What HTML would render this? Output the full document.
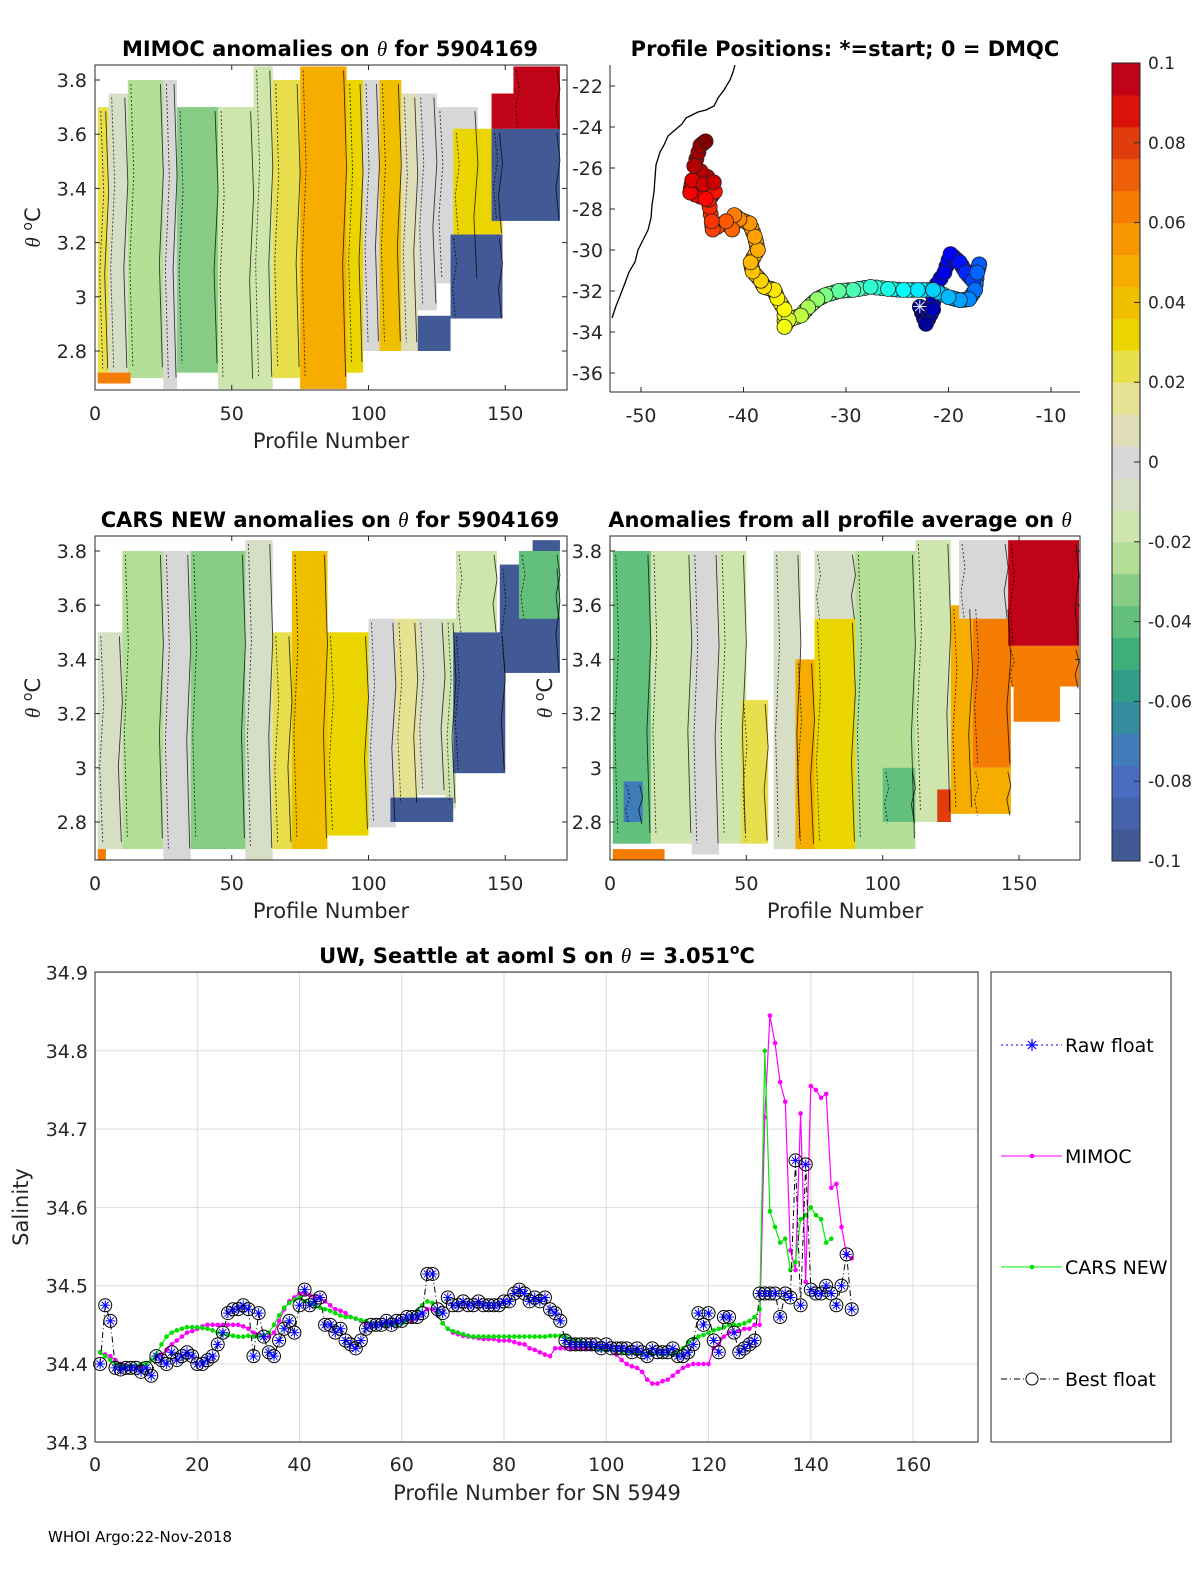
<!DOCTYPE html>
<html><head><meta charset="utf-8"><style>
html,body{margin:0;padding:0;background:#fff;}
svg{display:block;font-family:"DejaVu Sans","Liberation Sans",sans-serif;}
</style></head><body>
<svg id="fig" width="1200" height="1575" viewBox="0 0 1200 1575" xmlns="http://www.w3.org/2000/svg">
<rect x="0" y="0" width="1200" height="1575" fill="#fff"/>
<g id="layer-heat"></g><g id="layer-map"></g><g id="layer-cbar"></g><g id="layer-line"></g><g id="layer-text"></g>
</svg>
<script>
// ===== Bottom chart data =====
const floatSal = [34.40,34.475,34.455,34.395,34.393,34.395,34.395,34.395,34.39,34.395,
34.385,34.41,34.405,34.40,34.415,34.405,34.41,34.415,34.41,34.40,
34.40,34.405,34.41,34.425,34.44,34.465,34.47,34.47,34.475,34.47,
34.41,34.465,34.435,34.415,34.41,34.43,34.445,34.455,34.44,34.475,
34.495,34.475,34.48,34.485,34.45,34.45,34.44,34.445,34.43,34.425,
34.42,34.43,34.445,34.45,34.45,34.45,34.455,34.45,34.455,34.455,
34.46,34.46,34.46,34.465,34.515,34.515,34.47,34.465,34.485,34.475,
34.475,34.48,34.475,34.475,34.48,34.475,34.475,34.475,34.475,34.48,
34.48,34.49,34.495,34.49,34.48,34.485,34.48,34.485,34.47,34.465,
34.455,34.43,34.425,34.425,34.425,34.425,34.425,34.425,34.42,34.425,
34.42,34.42,34.42,34.42,34.415,34.42,34.415,34.41,34.42,34.415,
34.415,34.415,34.42,34.41,34.41,34.415,34.425,34.465,34.45,34.465,
34.43,34.415,34.46,34.46,34.44,34.415,34.42,34.425,34.43,34.49,
34.49,34.49,34.49,34.46,34.49,34.485,34.66,34.475,34.655,34.495,
34.49,34.49,34.5,34.49,34.475,34.5,34.54,34.47];
const mimocSal = [34.415,34.412,34.41,34.405,34.40,34.398,34.397,34.396,34.397,34.40,
34.405,34.41,34.412,34.418,34.425,34.43,34.435,34.44,34.442,34.445,
34.448,34.45,34.45,34.45,34.45,34.45,34.45,34.45,34.448,34.445,
34.44,34.438,34.435,34.435,34.44,34.455,34.47,34.48,34.485,34.49,
34.49,34.488,34.485,34.485,34.48,34.475,34.47,34.468,34.465,34.46,
34.458,34.455,34.452,34.45,34.45,34.45,34.452,34.452,34.455,34.455,
34.455,34.455,34.458,34.465,34.47,34.47,34.462,34.452,34.445,34.44,
34.438,34.436,34.435,34.434,34.433,34.432,34.432,34.432,34.43,34.43,
34.43,34.428,34.426,34.425,34.42,34.418,34.415,34.412,34.41,34.42,
34.42,34.42,34.42,34.42,34.42,34.42,34.42,34.42,34.42,34.42,
34.418,34.412,34.405,34.40,34.397,34.395,34.39,34.38,34.375,34.375,
34.378,34.38,34.385,34.39,34.395,34.398,34.40,34.40,34.40,34.40,
34.42,34.425,34.435,34.44,34.44,34.442,34.445,34.445,34.45,34.45,
34.715,34.845,34.81,34.76,34.735,34.545,34.52,34.72,34.505,34.755,
34.75,34.74,34.745,34.625,34.63,34.575,34.54,34.535];
const carsSal = [34.415,34.41,34.405,34.40,34.398,34.397,34.397,34.398,34.40,34.40,
34.405,34.412,34.425,34.435,34.44,34.443,34.445,34.447,34.447,34.447,
34.446,34.445,34.443,34.44,34.438,34.437,34.436,34.435,34.435,34.436,
34.435,34.435,34.437,34.44,34.45,34.462,34.472,34.478,34.482,34.485,
34.48,34.478,34.475,34.472,34.47,34.468,34.465,34.462,34.46,34.46,
34.458,34.456,34.455,34.452,34.45,34.45,34.45,34.45,34.45,34.452,
34.455,34.46,34.468,34.475,34.48,34.478,34.465,34.452,34.445,34.442,
34.44,34.438,34.436,34.435,34.435,34.435,34.435,34.435,34.435,34.435,
34.435,34.435,34.435,34.435,34.435,34.435,34.435,34.435,34.436,34.436,
34.436,34.435,34.432,34.43,34.428,34.425,34.422,34.42,34.418,34.418,
34.418,34.417,34.416,34.415,34.414,34.414,34.413,34.413,34.413,34.413,
34.412,34.412,34.412,34.415,34.42,34.428,34.432,34.435,34.437,34.44,
34.443,34.445,34.447,34.45,34.45,34.45,34.452,34.455,34.46,34.47,
34.80,34.595,34.575,34.555,34.56,34.52,34.53,34.585,34.59,34.60,
34.59,34.585,34.555,34.56];
const xTicks = [0,20,40,60,80,100,120,140,160];
const yTicks = [34.3,34.4,34.5,34.6,34.7,34.8,34.9];

// ===== Heatmap segment data: [startProfile, endProfile, topTheta, bottomTheta, anomaly] =====
const mimocStart = [1,5,12,25,30,45,58,65,75,92,98,104,112,118,125,1,118,130,131,145,153,145];
const mimocEnd   = [5,12,25,30,45,58,65,75,92,98,104,112,118,125,140,13,130,149,149,170,170,153];
const mimocTop   = [3.70,3.75,3.80,3.80,3.70,3.70,3.85,3.80,3.85,3.80,3.80,3.80,3.75,3.75,3.70,2.72,2.93,3.23,3.62,3.62,3.85,3.75];
const mimocBot   = [2.70,2.70,2.70,2.66,2.72,2.66,2.66,2.70,2.66,2.72,2.80,2.80,2.80,2.95,3.05,2.68,2.80,2.92,3.23,3.28,3.62,3.62];
const mimocVal   = [0.025,-0.012,-0.022,0.0,-0.036,-0.016,-0.015,0.022,0.045,0.03,0.0,0.04,0.01,0.0,0.0,0.06,-0.1,-0.1,0.035,-0.1,0.1,0.1];

const carsStart = [1,10,25,35,55,65,72,85,100,110,118,128,108,131,132,148,155,160,1];
const carsEnd   = [10,25,35,55,65,72,85,100,110,118,128,132,131,150,147,170,170,170,4];
const carsTop   = [3.50,3.80,3.80,3.80,3.84,3.50,3.80,3.50,3.55,3.55,3.55,3.55,2.89,3.50,3.80,3.75,3.80,3.84,2.70];
const carsBot   = [2.70,2.70,2.66,2.70,2.66,2.70,2.70,2.75,2.78,2.85,2.90,2.85,2.80,2.98,3.50,3.35,3.55,3.80,2.66];
const carsVal   = [-0.005,-0.022,0.0,-0.032,-0.012,0.02,0.04,0.035,0.0,0.018,-0.01,-0.02,-0.1,-0.1,-0.02,-0.1,-0.04,-0.1,0.06];

const avgStart = [1,5,15,30,40,48,60,68,75,75,90,100,112,120,125,133,128,146,146,148,133,1];
const avgEnd   = [15,12,30,40,50,58,70,75,90,90,112,112,125,125,133,147,146,172,172,165,147,20];
const avgTop   = [3.80,2.95,3.80,3.80,3.80,3.25,3.80,3.40,3.55,3.80,3.80,3.00,3.84,2.92,3.60,3.60,3.84,3.84,3.45,3.30,3.00,2.70];
const avgBot   = [2.72,2.80,2.72,2.68,2.72,2.72,2.70,2.70,2.70,3.55,2.70,2.80,2.80,2.80,2.83,3.00,3.55,3.45,3.30,3.17,2.83,2.66];
const avgVal   = [-0.038,-0.07,-0.02,0.0,-0.018,0.022,-0.005,0.045,0.028,-0.01,-0.022,-0.04,-0.02,0.08,0.045,0.065,0.0,0.1,0.065,0.065,0.05,0.06];

// ===== Float track positions and their profile numbers =====
const trackLon = [-22.8,-22.2,-21.5,-21.5,-20.4,-19.8,-18.9,-18.3,-17.6,-17.0,-17.2,-17.4,-18.0,-18.9,-20.0,-21.5,-23.0,-24.4,-25.9,-27.6,-29.3,-30.7,-32.0,-32.8,-33.7,-34.4,-35.6,-36.0,-36.0,-36.7,-37.0,-38.0,-38.3,-39.1,-39.3,-38.6,-38.9,-39.4,-40.4,-40.9,-41.1,-41.7,-43.0,-43.1,-43.4,-42.8,-43.7,-45.2,-45.0,-43.9,-42.9,-44.8,-44.2,-43.7];
const trackLat = [-32.77,-33.6,-32.9,-31.95,-31.1,-30.2,-30.6,-31.1,-31.5,-30.7,-31.1,-31.95,-32.4,-32.45,-32.3,-31.95,-31.95,-31.95,-31.9,-31.8,-31.95,-32.0,-32.2,-32.4,-32.8,-33.2,-33.4,-33.75,-32.9,-32.35,-31.95,-31.8,-31.5,-31.05,-30.6,-30.0,-29.35,-28.7,-28.5,-28.3,-29.0,-28.6,-29.0,-28.6,-27.55,-27.15,-27.5,-27.2,-26.6,-26.8,-26.7,-25.9,-24.9,-24.7];
const trackProf = [1,4,8,12,16,20,24,28,32,36,38,40,44,48,52,56,60,64,68,72,76,80,84,88,92,96,100,104,106,108,110,112,114,116,118,120,122,124,126,128,132,134,138,140,144,146,148,150,154,156,158,162,166,170];
const mapXTicks = [-50,-40,-30,-20,-10];
const mapYTicks = [-22,-24,-26,-28,-30,-32,-34,-36];
const thetaTicks = [3.8,3.6,3.4,3.2,3,2.8];
const profTicks = [0,50,100,150];
const cbarTicks = [0.1,0.08,0.06,0.04,0.02,0,-0.02,-0.04,-0.06,-0.08,-0.1];

const NS='http://www.w3.org/2000/svg';
function mk(tag, attrs, parent){const e=document.createElementNS(NS,tag);for(const k in attrs)e.setAttribute(k,attrs[k]);(parent||document.getElementById('fig')).appendChild(e);return e;}
function txt(s, x, y, size, anchor, parent, extra){const t=mk('text',Object.assign({x:x,y:y,'font-size':size,'text-anchor':anchor||'middle',fill:'#262626'},extra||{}),parent);t.textContent=s;return t;}

const cmStops=[[-0.1,'#3d5488'],[-0.09,'#4660a8'],[-0.08,'#4a6cc0'],[-0.07,'#3d80b8'],[-0.06,'#30948f'],[-0.05,'#35aa7a'],[-0.04,'#62c07c'],[-0.03,'#90d088'],[-0.02,'#c8e8a0'],[-0.01,'#d6e0c0'],[0,'#d7d7d7'],[0.01,'#e2e0b0'],[0.02,'#e8e280'],[0.03,'#e8da00'],[0.04,'#f0c000'],[0.05,'#f8a800'],[0.06,'#f88a00'],[0.07,'#f06808'],[0.08,'#e03c0c'],[0.09,'#d80808'],[0.1,'#b00020']];
function hx(c){return [parseInt(c.substr(1,2),16),parseInt(c.substr(3,2),16),parseInt(c.substr(5,2),16)];}
function cmap(v){v=Math.max(-0.1,Math.min(0.1,v));const step=0.2/25;v=-0.1+(Math.min(24,Math.floor((v+0.1)/step))+0.5)*step;
 for(let i=0;i<cmStops.length-1;i++){const a=cmStops[i],b=cmStops[i+1];if(v>=a[0]&&v<=b[0]){const t=(v-a[0])/(b[0]-a[0]);const ca=hx(a[1]),cb=hx(b[1]);return 'rgb('+ca.map((c,j)=>Math.round(c+(cb[j]-c)*t)).join(',')+')';}}return cmStops[0][1];}

function heatPanel(g, S, E, T, B, V, name){
 const layer=mk('g',{},document.getElementById('layer-heat'));
 
 
 const xs=p=>g.x0+p*g.kx, ys=t=>g.y38+(3.8-t)*271;
 for(let i=0;i<S.length;i++){
  const y0=Math.max(g.top,ys(T[i])), y1=Math.min(g.bot,ys(B[i]));
  const r=mk('rect',{x:xs(S[i]),y:y0,width:xs(E[i])-xs(S[i]),height:y1-y0,fill:cmap(V[i])},layer);
  
  
 }
 // contour-like lines at segment boundaries
 for(let i=0;i<S.length;i++){
  const y0=Math.max(g.top,ys(T[i])), y1=Math.min(g.bot,ys(B[i]));
  if(y1-y0<40) continue;
  [S[i],E[i]].forEach((p,k)=>{const x=xs(p)+(k?-3:3);
   const c=mk('path',{d:'M'+x+','+(y0+4)+' l3,'+((y1-y0)*0.3)+' l-4,'+((y1-y0)*0.3)+' l3,'+((y1-y0)*0.35),fill:'none',stroke:'#000','stroke-width':0.9,'stroke-opacity':0.75,'stroke-dasharray':k?'none':'2,2'},layer);
   });
 }
 mk('rect',{x:g.x0,y:g.top,width:g.x1-g.x0,height:g.bot-g.top,fill:'none',stroke:'#262626','stroke-width':1},layer);
 thetaTicks.forEach(t=>{const y=ys(t);mk('line',{x1:g.x0,y1:y,x2:g.x0+5,y2:y,stroke:'#262626'},layer);mk('line',{x1:g.x1,y1:y,x2:g.x1-5,y2:y,stroke:'#262626'},layer);
  const l=txt(String(t),g.x0-8,y+7,19,'end',layer);});
 profTicks.forEach(p=>{const x=xs(p);mk('line',{x1:x,y1:g.bot,x2:x,y2:g.bot-5,stroke:'#262626'},layer);mk('line',{x1:x,y1:g.top,x2:x,y2:g.top+5,stroke:'#262626'},layer);
  const l=txt(String(p),x,g.bot+30,19,'middle',layer);});
 const xl=txt('Profile Number',(g.x0+g.x1)/2,g.bot+58,21,'middle',layer);
 const yl=txt('',g.ylx,(g.top+g.bot)/2,21,'middle',layer,{transform:'rotate(-90 '+g.ylx+' '+((g.top+g.bot)/2)+')'});
 yl.innerHTML='<tspan font-style="italic" font-family="Liberation Serif, serif">θ</tspan> <tspan font-size="14" dy="-8">o</tspan><tspan dy="8">C</tspan>';
 
}
heatPanel({x0:95,x1:567,kx:2.735,y38:80,top:65,bot:390,ylx:40}, mimocStart,mimocEnd,mimocTop,mimocBot,mimocVal,'mimoc-anomaly-heatmap');
heatPanel({x0:95,x1:567,kx:2.735,y38:551,top:536,bot:860,ylx:40}, carsStart,carsEnd,carsTop,carsBot,carsVal,'cars-anomaly-heatmap');
heatPanel({x0:610,x1:1080,kx:2.727,y38:551,top:536,bot:860,ylx:552}, avgStart,avgEnd,avgTop,avgBot,avgVal,'average-anomaly-heatmap');

(function(){
 const L=document.getElementById('layer-map');
 const mx=lon=>641+(lon+50)*10.25, my=lat=>86+(-22-lat)*20.5;
 mk('line',{x1:610,y1:392,x2:1080,y2:392,stroke:'#262626'},L);
 mk('line',{x1:610,y1:65,x2:610,y2:392,stroke:'#262626'},L);
 mapXTicks.forEach(v=>{const x=mx(v);mk('line',{x1:x,y1:392,x2:x,y2:387,stroke:'#262626'},L);const t=txt(String(v),x,422,19,'middle',L);});
 mapYTicks.forEach(v=>{const y=my(v);mk('line',{x1:610,y1:y,x2:615,y2:y,stroke:'#262626'},L);const t=txt(String(v),603,y+7,19,'end',L);});
 const coast=mk('path',{d:'M735,65 L733,72 L730,80 L724,90 L718,98 L714,106 L706,110 L698,112 L692,115 L686,118 L682,124 L675,130 L668,136 L664,145 L660,152 L656,165 L655,178 L654,192 L652,205 L651,218 L648,230 L643,240 L638,250 L635,262 L629,272 L625,283 L620,296 L616,306 L612,318',fill:'none',stroke:'#000','stroke-width':1.3},L);
 
 let d='';trackLon.forEach((v,i)=>{d+=(i?'L':'M')+mx(v)+','+my(trackLat[i]);});
 mk('path',{d:d,fill:'none',stroke:'#000','stroke-width':0.8},L);
 function jet(t){const r=Math.max(0,Math.min(1,1.5-Math.abs(4*t-3))),g=Math.max(0,Math.min(1,1.5-Math.abs(4*t-2))),b=Math.max(0,Math.min(1,1.5-Math.abs(4*t-1)));return 'rgb('+Math.round(r*255)+','+Math.round(g*255)+','+Math.round(b*255)+')';}
 // interpolated intermediate circles along track for density
 for(let i=0;i<trackLon.length-1;i++){
  for(let k=1;k<3;k++){const f=k/3;const lon=trackLon[i]+(trackLon[i+1]-trackLon[i])*f, lat=trackLat[i]+(trackLat[i+1]-trackLat[i])*f, pr=trackProf[i]+(trackProf[i+1]-trackProf[i])*f;
   const c=mk('circle',{cx:mx(lon),cy:my(lat),r:7.5,fill:jet(pr/170),stroke:'#222','stroke-width':0.8},L);}
 }
 trackLon.forEach((v,i)=>{const c=mk('circle',{cx:mx(v),cy:my(trackLat[i]),r:7.5,fill:jet(trackProf[i]/170),stroke:'#222','stroke-width':0.8},L);});
 const s=txt('✳',mx(trackLon[0]),my(trackLat[0])+6,18,'middle',L,{fill:'#fff'});
})();

(function(){
 const C=document.getElementById('layer-cbar');
 const cy=v=>462-v*3990;
 for(let k=0;k<25;k++){const v0=-0.1+k*0.008;mk('rect',{x:1112,y:cy(v0+0.008),width:28,height:cy(v0)-cy(v0+0.008)+0.5,fill:cmap(v0+0.004)},C);}
 const b=mk('rect',{x:1112,y:63,width:28,height:798,fill:'none',stroke:'#262626'},C);
 cbarTicks.forEach(v=>{const y=cy(v);mk('line',{x1:1140,y1:y,x2:1134,y2:y,stroke:'#262626'},C);const t=txt(String(v),1148,y+6,17,'start',C);});
})();

(function(){
 const Lg=document.getElementById('layer-line');
 const X0=95,X1=978,Y0=972,Y1=1442;
 const px=p=>X0+p*5.113, py=s=>1364-(s-34.4)*783;
 xTicks.forEach(v=>{const x=px(v);mk('line',{x1:x,y1:Y0,x2:x,y2:Y1,stroke:'#dcdcdc'},Lg);const t=txt(String(v),x,1471,19,'middle',Lg);});
 yTicks.forEach(v=>{const y=py(v);mk('line',{x1:X0,y1:y,x2:X1,y2:y,stroke:'#dcdcdc'},Lg);const t=txt(v.toFixed(1),88,y+7,19,'end',Lg);});
 mk('rect',{x:X0,y:Y0,width:X1-X0,height:Y1-Y0,fill:'none',stroke:'#262626'},Lg);
 const path=(arr)=>arr.map((v,i)=>(i?'L':'M')+px(i+1).toFixed(1)+','+py(v).toFixed(1)).join('');
 const m=mk('path',{d:path(mimocSal),fill:'none',stroke:'#ff00ff','stroke-width':1.2},Lg);
 mimocSal.forEach((v,i)=>{const c=mk('circle',{cx:px(i+1),cy:py(v),r:2.3,fill:'#ff00ff'},Lg);});
 const g=mk('path',{d:path(carsSal),fill:'none',stroke:'#00ee00','stroke-width':1.2},Lg);
 carsSal.forEach((v,i)=>{const c=mk('circle',{cx:px(i+1),cy:py(v),r:2.3,fill:'#00dd00'},Lg);});
 const f=mk('path',{d:path(floatSal),fill:'none',stroke:'#000','stroke-width':1,'stroke-dasharray':'6,3,1,3'},Lg);
 floatSal.forEach((v,i)=>{const x=px(i+1),y=py(v);
  const c=mk('circle',{cx:x,cy:y,r:6.5,fill:'none',stroke:'#000','stroke-width':1},Lg);
  mk('path',{d:'M'+(x-5)+','+y+'h10M'+x+','+(y-5)+'v10M'+(x-3.5)+','+(y-3.5)+'l7,7M'+(x+3.5)+','+(y-3.5)+'l-7,7',stroke:'#0000ff','stroke-width':1},Lg);});
 const lb=mk('rect',{x:991,y:972,width:180,height:470,fill:'#fff',stroke:'#262626'},Lg);
 const ent=[['Raw float',1045],['MIMOC',1156],['CARS NEW',1267],['Best float',1379]];
 mk('line',{x1:1001,y1:1045,x2:1062,y2:1045,stroke:'#0000ff','stroke-dasharray':'2,3'},Lg);
 mk('path',{d:'M1026,1045h12M1032,1039v12M1028,1041l8,8M1036,1041l-8,8',stroke:'#0000ff','stroke-width':1.2},Lg);
 mk('line',{x1:1001,y1:1156,x2:1062,y2:1156,stroke:'#ff00ff'},Lg);mk('circle',{cx:1032,cy:1156,r:2.3,fill:'#ff00ff'},Lg);
 mk('line',{x1:1001,y1:1267,x2:1062,y2:1267,stroke:'#00ee00'},Lg);mk('circle',{cx:1032,cy:1267,r:2.3,fill:'#00dd00'},Lg);
 mk('line',{x1:1001,y1:1379,x2:1062,y2:1379,stroke:'#000','stroke-dasharray':'6,3,1,3'},Lg);mk('circle',{cx:1032,cy:1379,r:6,fill:'#fff',stroke:'#000'},Lg);
 ent.forEach(e=>{const t=txt(e[0],1065,e[1]+7,19,'start',Lg,{fill:'#000'});});
 const xl=txt('Profile Number for SN 5949',537,1500,21,'middle',Lg);
 const yl=txt('Salinity',28,1207,21,'middle',Lg,{transform:'rotate(-90 28 1207)'});
})();

(function(){
 const T=document.getElementById('layer-text');
 function title(html,x,y,name){const t=txt('',x,y,21,'middle',T,{'font-weight':'bold',fill:'#000'});t.innerHTML=html;}
 const th='<tspan font-style="italic" font-weight="normal" font-family="Liberation Serif, serif">θ</tspan>';
 title('MIMOC anomalies on '+th+'  for 5904169',330,56,'mimoc-title');
 title('Profile Positions: *=start; 0 = DMQC',845,56,'map-title');
 title('CARS NEW anomalies on '+th+' for 5904169',330,527,'cars-title');
 title('Anomalies from all profile average on '+th,840,527,'average-title');
 title('UW, Seattle at aoml S on '+th+' = 3.051<tspan font-size="14" dy="-9">o</tspan><tspan dy="9">C</tspan>',537,963,'salinity-title');
 const f=txt('WHOI Argo:22-Nov-2018',48,1542,15,'start',T,{fill:'#000'});
})();
</script>
</body></html>
